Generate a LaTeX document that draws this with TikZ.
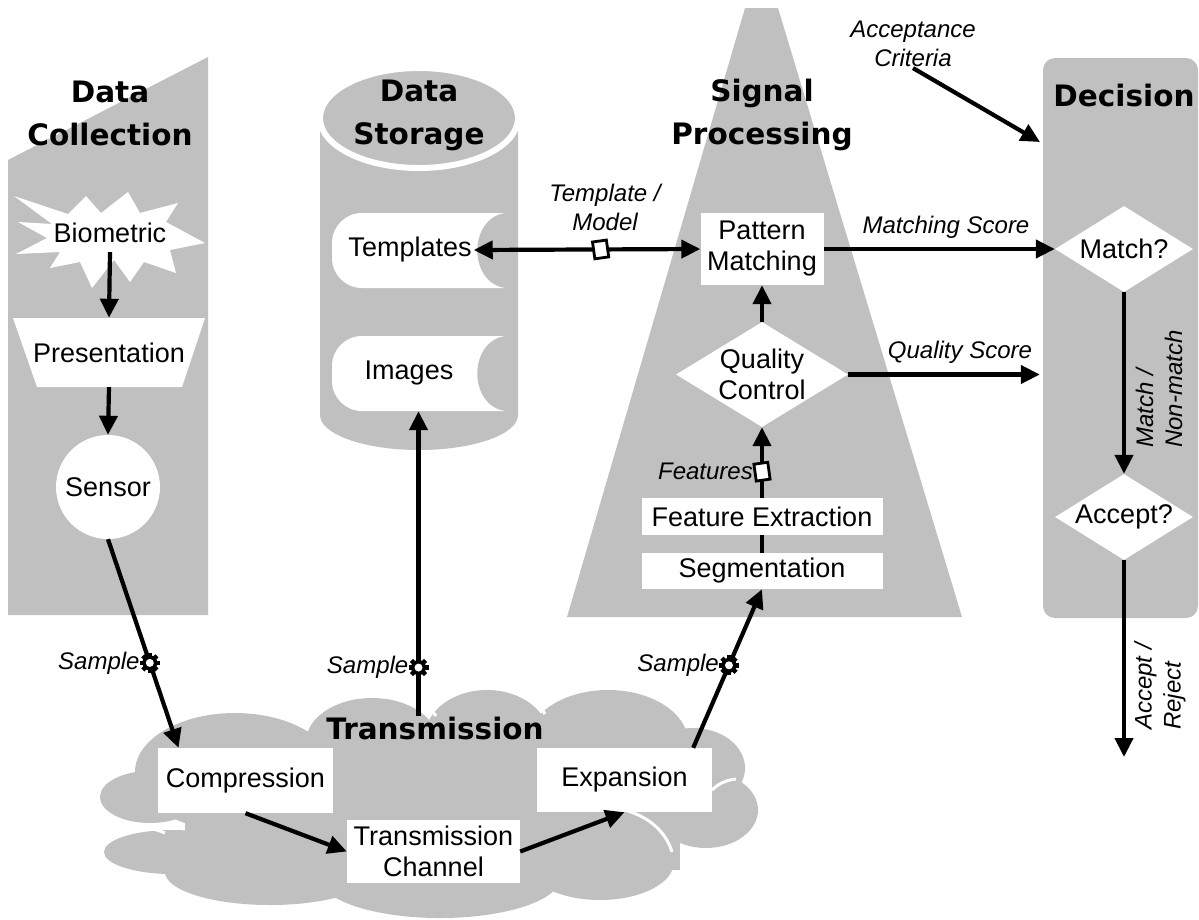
\documentclass[tikz,border=0pt]{standalone}
\usepackage{fontspec}
\setmainfont{Liberation Sans}
\newfontfamily\headfont{DejaVu Sans}
\usetikzlibrary{arrows.meta,shapes.geometric}
\definecolor{panelgray}{HTML}{C0C0C0}

\tikzset{
  box/.style={rectangle, fill=white, inner sep=0pt, align=center, font=\fontsize{27}{31}\selectfont},
  txt/.style={inner sep=2pt, align=center, font=\fontsize{27}{31}\selectfont},
  lbl/.style={inner sep=1pt, align=center, font=\fontsize{24}{29}\selectfont\itshape},
  heading/.style={inner sep=0pt, align=center, font=\headfont\bfseries\fontsize{29.5}{43}\selectfont},
  decide/.style={diamond, fill=white, inner sep=0pt},
  flow/.style={line width=4.2pt, -{Triangle[length=19pt,width=18pt]}},
  twoway/.style={line width=4.2pt, {Triangle[length=19pt,width=18pt]}-{Triangle[length=19pt,width=18pt]}},
  link/.style={line width=4.2pt},
  notch/.style={white, line width=3pt},
  samplemark/.pic={
    \foreach \a in {0,45,90,135}
      \fill[black,rotate=\a] (-2.2,-10) rectangle (2.2,10);
    \fill[black] (0,0) circle[radius=7.5];
    \fill[white] (0,0) circle[radius=4];
  },
  tagmark/.pic={
    \filldraw[fill=white, draw=black, line width=2.8pt, rotate=8] (-7,-8.5) rectangle (7,8.5);
  },
  storeshape/.pic={
    \fill[white] (86.5,-37.5) -- (-56.5,-37.5)
      .. controls (-73.1,-37.5) and (-86.5,-24.1) .. (-86.5,-7.5) -- (-86.5,7.5)
      .. controls (-86.5,24.1) and (-73.1,37.5) .. (-56.5,37.5) -- (86.5,37.5)
      .. controls (49.5,32.5) and (49.5,-32.5) .. (86.5,-37.5) -- cycle;
  }
}

\begin{document}
\begin{tikzpicture}[x=1pt,y=-1pt]
\useasboundingbox (0,0) rectangle (1199,919);

% ---------- background panels ----------
% data collection column
\fill[panelgray] (8,160) -- (208,57) -- (208,615) -- (8,615) -- cycle;
% data storage cylinder
\fill[panelgray] (320,118) -- (320,415)
  .. controls (320,434.3) and (364.3,450) .. (419,450)
  .. controls (473.7,450) and (518,434.3) .. (518,415) -- (518,118) -- cycle;
\filldraw[fill=panelgray, draw=white, line width=6pt] (419,118) ellipse[x radius=99, y radius=50];
% signal processing wedge
\fill[panelgray] (745,8) -- (778,8) -- (962,617) -- (567,617) -- cycle;
% decision panel
\node[fill=panelgray, rounded corners=12pt, minimum width=155pt, minimum height=560pt, inner sep=0pt]
  (decpanel) at (1120.5,338) {};
% transmission cloud
\begin{scope}[panelgray]
  \fill (150,797) ellipse[x radius=50, y radius=26];
  \fill (172,852) ellipse[x radius=68, y radius=22];
  \fill (235,772) ellipse[x radius=100, y radius=59];
  \fill (372,742) ellipse[x radius=66, y radius=44];
  \fill (487,737) ellipse[x radius=62, y radius=47];
  \fill (608,742) ellipse[x radius=80, y radius=52];
  \fill (693,768) ellipse[x radius=52, y radius=40];
  \fill (706,810) ellipse[x radius=52, y radius=38];
  \fill (600,862) ellipse[x radius=74, y radius=38];
  \fill (440,878) ellipse[x radius=120, y radius=40];
  \fill (270,872) ellipse[x radius=105, y radius=33];
  \fill (185,752) rectangle (680,870);
\end{scope}
\draw[notch] (104,829) .. controls (125,825) and (150,826) .. (165,833);
\draw[notch] (628,811) .. controls (650,818) and (666,832) .. (672,852);
\draw[notch] (712,790) .. controls (718,784) and (726,780) .. (736,779);
\draw[notch] (536,700) .. controls (539,705) and (542,709) .. (545,714);
\draw[notch] (428,705) .. controls (431,709) and (433,712) .. (436,716);

% ---------- headings ----------
\node[heading] (hcoll) at (110,113) {Data\\Collection};
\node[heading] (hstore) at (419,115) {Data\\Storage};
\node[heading] (hsig) at (762,115) {Signal\\Processing};
\node[heading] (hdec) at (1124,95) {Decision};
\node[heading] (htrans) at (435,728) {Transmission};

% ---------- data collection ----------
\fill[white] (14,196) -- (68,214) -- (86,196) -- (101,213) -- (128,192) -- (140,213)
  -- (178,203) -- (166,222) -- (205,243) -- (170,250) -- (176,273) -- (144,262)
  -- (130,282) -- (114,260) -- (92,288) -- (80,262) -- (50,268) -- (60,252)
  -- (16,254) -- (47,238) -- (18,222) -- (52,224) -- cycle;
\node[txt, minimum height=38pt, inner sep=0pt] (bio) at (110,233) {Biometric};
\fill[white] (13,318) -- (205,318) -- (182,387) -- (37,387) -- cycle;
\node[txt, minimum width=192pt, minimum height=69pt, inner sep=0pt] (pres) at (109,352.5) {Presentation};
\node[circle, fill=white, minimum size=104pt, inner sep=0pt, font=\fontsize{27}{31}\selectfont] (sensor) at (108,487) {Sensor};

% ---------- data storage ----------
\pic at (418.5,250.5) {storeshape};
\pic at (418.5,373.5) {storeshape};
\node[txt] (tmpl) at (410,250) {Templates};
\node[txt] (img) at (409,373) {Images};
\node[minimum width=173pt, minimum height=75pt, inner sep=0pt] (imgs) at (418.5,373.5) {};

% ---------- transmission ----------
\node[box, minimum width=175pt, minimum height=65pt] (comp) at (245.5,780.5) {Compression};
\node[box, minimum width=173pt, minimum height=63pt] (tc) at (433.5,851.5) {Transmission\\Channel};
\node[box, minimum width=175pt, minimum height=64pt] (exp) at (624.5,780) {Expansion};

% ---------- signal processing ----------
\node[box, minimum width=123pt, minimum height=72pt] (pm) at (762,249) {Pattern\\Matching};
\node[decide, minimum width=172pt, minimum height=105pt] (qc) at (762,374.5) {};
\node[txt] at (qc) {Quality\\Control};
\node[box, minimum width=241pt, minimum height=37pt] (fe) at (762,516.5) {Feature Extraction};
\node[box, minimum width=241pt, minimum height=36pt] (seg) at (762,571) {Segmentation};

% ---------- decision ----------
\node[decide, minimum width=138pt, minimum height=86pt] (match) at (1124,249) {};
\node[txt] at (match) {Match?};
\node[decide, minimum width=138pt, minimum height=86pt] (accept) at (1124,517) {};
\node[txt] at (accept) {Accept?};
\node[lbl] (acc) at (913,44) {Acceptance\\Criteria};
\coordinate (acctip) at (1040,142);
\coordinate (decout) at (1124,757);

% ---------- connectors ----------
\draw[flow] (bio.south) -- (pres.north);
\draw[flow] (pres.south) -- (sensor.north);
\draw[flow] (sensor.south) -- coordinate[pos=0.593] (s1) ([xshift=-67pt]comp.north);
\draw[flow] (comp.south) -- (tc.west);
\draw[flow] (tc.east) -- (exp.south);
\draw[flow] ([xshift=-19pt]exp.north east) -- coordinate[pos=0.52] (s3) (seg.south);
\draw[flow] (htrans.north -| imgs.south) -- coordinate[pos=0.16] (s2) (imgs.south);
\draw[twoway] (tmpl.east) -- coordinate[pos=0.56] (t1) (pm.west);
\draw[link] (seg.north) -- (fe.south);
\draw[flow] (fe.north) -- coordinate[pos=0.37] (f1) (qc.south);
\draw[flow] (qc.north) -- (pm.south);
\draw[flow] (pm.east) -- (match.west);
\draw[flow, shorten >=3pt] (qc.east) -- (qc.east -| decpanel.west);
\draw[flow] (acc.south) -- (acctip);
\draw[flow] (match.south) -- (accept.north);
\draw[flow] (accept.south) -- (decout);

% connector markers
\pic at (s1) {samplemark};
\pic at (s2) {samplemark};
\pic at (s3) {samplemark};
\pic at (t1) {tagmark};
\pic at (f1) {tagmark};

% ---------- connector labels ----------
\node[lbl, anchor=east] at ([xshift=-9pt]s1) {Sample};
\node[lbl, anchor=east] at ([xshift=-9pt]s2) {Sample};
\node[lbl, anchor=east] at ([xshift=-9pt]s3) {Sample};
\node[lbl, anchor=east] at ([xshift=-8pt]f1) {Features};
\node[lbl] at (605,207) {Template /\\Model};
\node[lbl] at (946,227) {Matching Score};
\node[lbl] at (960,352) {Quality Score};
\node[lbl, rotate=90, anchor=west, align=left] at (1159,449) {Match /\\Non-match};
\node[lbl, rotate=90, anchor=west, align=left] at (1160,731) {Accept /\\Reject};
\end{tikzpicture}
\end{document}
